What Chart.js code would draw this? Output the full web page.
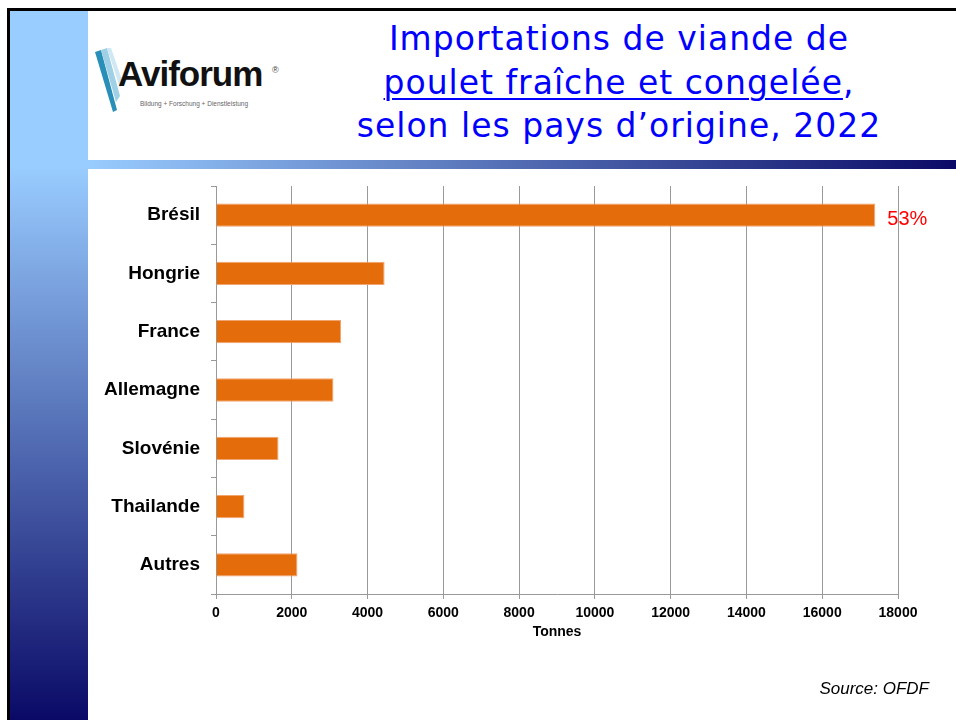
<!DOCTYPE html>
<html>
<head>
<meta charset="utf-8">
<title>Importations de viande de poulet 2022</title>
<script src="https://cdn.jsdelivr.net/npm/chart.js@4.4.0/dist/chart.umd.min.js"></script>
<style>
  html, body { margin: 0; padding: 0; background: #fff; }
  #slide { position: relative; width: 956px; height: 720px; overflow: hidden; background: #fff; font-family: "Liberation Sans", Arial, sans-serif; }
  #topline { position: absolute; left: 7px; top: 8px; width: 949px; height: 3px; background: #000; }
  #leftline { position: absolute; left: 7px; top: 8px; width: 3px; height: 712px; background: #000; }
  #sidebar { position: absolute; left: 10px; top: 11px; width: 78px; height: 709px;
    background: linear-gradient(#99ccff 0%, #99ccff 22%, #0a0a66 100%); }
  #rule { position: absolute; left: 88px; top: 160px; width: 868px; height: 9px;
    background: linear-gradient(to right, #99ccff, #0a0a66); }
  #title { position: absolute; left: 319px; width: 600px; top: 17px; text-align: center;
    color: #0000ff; font-family: "DejaVu Sans", sans-serif; font-size: 33px; letter-spacing: 1px; line-height: 43.5px; }
  #title u { text-decoration-thickness: 2px; text-underline-offset: 4px; }
  #logo { position: absolute; left: 92px; top: 46px; width: 200px; height: 68px; }
  #logo .name { position: absolute; left: 26px; top: 8px; font-size: 35px; font-weight: bold; color: #111; letter-spacing: -1px; }
  #logo .reg { position: absolute; left: 180px; top: 19px; font-size: 9px; color: #444; }
  #logo .sub { position: absolute; left: 48px; top: 54px; font-size: 6.5px; color: #666; white-space: nowrap; }
  #source { position: absolute; right: 27px; top: 679px; font-size: 17px; font-style: italic; color: #000; }
  #chart { position: absolute; left: 0; top: 0; }
</style>
</head>
<body>
<div id="slide">
  <div id="sidebar"></div>
  <div id="topline"></div>
  <div id="leftline"></div>
  <div id="rule"></div>
  <div id="logo">
    <svg width="34" height="68" style="position:absolute;left:0;top:0">
      <polygon points="3,6 9,4 25,64 21,66" fill="#2a8fb8"/>
      <polygon points="9,4 15,2 28,50 24,56" fill="#9fd0e6"/>
      <polygon points="15,2 19,2 30,34 28,42" fill="#cfe8f3"/>
    </svg>
    <div class="name">Aviforum</div>
    <div class="reg">&reg;</div>
    <div class="sub">Bildung + Forschung + Dienstleistung</div>
  </div>
  <div id="title">Importations de viande de<br><u>poulet fraîche et congelée</u>,<br>selon les pays d’origine, 2022</div>
  <canvas id="chart" width="956" height="720"></canvas>
  <div id="source">Source: OFDF</div>
</div>
<script>
  const countries = ['Brésil', 'Hongrie', 'France', 'Allemagne', 'Slovénie', 'Thailande', 'Autres'];
  const tonnes = [17400, 4450, 3300, 3100, 1650, 750, 2150];
  const shareLabels = ['53%', '', '', '', '', '', ''];
  const xTicks = [0, 2000, 4000, 6000, 8000, 10000, 12000, 14000, 16000, 18000];

  // red share label next to the bar end
  const shareLabelPlugin = {
    id: 'shareLabel',
    afterDatasetsDraw(chart) {
      const ctx = chart.ctx;
      const meta = chart.getDatasetMeta(0);
      ctx.save();
      ctx.font = '20px "Liberation Sans", Arial, sans-serif';
      ctx.fillStyle = '#ff0000';
      ctx.textAlign = 'left';
      ctx.textBaseline = 'middle';
      meta.data.forEach((bar, i) => {
        if (shareLabels[i]) ctx.fillText(shareLabels[i], bar.x + 12, bar.y + 4);
      });
      ctx.restore();
    }
  };

  Chart.defaults.font.family = '"Liberation Sans", Arial, sans-serif';
  Chart.defaults.color = '#000';

  new Chart(document.getElementById('chart'), {
    type: 'bar',
    data: {
      labels: countries,
      datasets: [{
        data: tonnes,
        backgroundColor: '#e46c0a',
        borderColor: '#f0a470',
        borderWidth: 1,
        borderSkipped: 'start',
        categoryPercentage: 1,
        barPercentage: 0.4
      }]
    },
    options: {
      indexAxis: 'y',
      responsive: false,
      animation: false,
      layout: { padding: { top: 186, right: 58, bottom: 79, left: 0 } },
      plugins: {
        legend: { display: false },
        tooltip: { enabled: false }
      },
      scales: {
        x: {
          min: xTicks[0],
          max: xTicks[xTicks.length - 1],
          afterBuildTicks: scale => { scale.ticks = xTicks.map(v => ({ value: v })); },
          afterFit: scale => { scale.height = 47; },
          grid: { color: '#999', tickLength: 5, drawTicks: true },
          border: { color: '#999' },
          ticks: { font: { size: 14, weight: 'bold' }, padding: 6, maxRotation: 0, callback: v => String(v) },
          title: { display: true, text: 'Tonnes', font: { size: 14, weight: 'bold' }, padding: { top: 0, bottom: 0 } }
        },
        y: {
          afterFit: scale => { scale.width = 216; },
          grid: { drawOnChartArea: false, color: '#999', tickLength: 5 },
          border: { color: '#999' },
          ticks: { font: { size: 19, weight: 'bold' }, padding: 11 }
        }
      }
    },
    plugins: [shareLabelPlugin]
  });
</script>
</body>
</html>
